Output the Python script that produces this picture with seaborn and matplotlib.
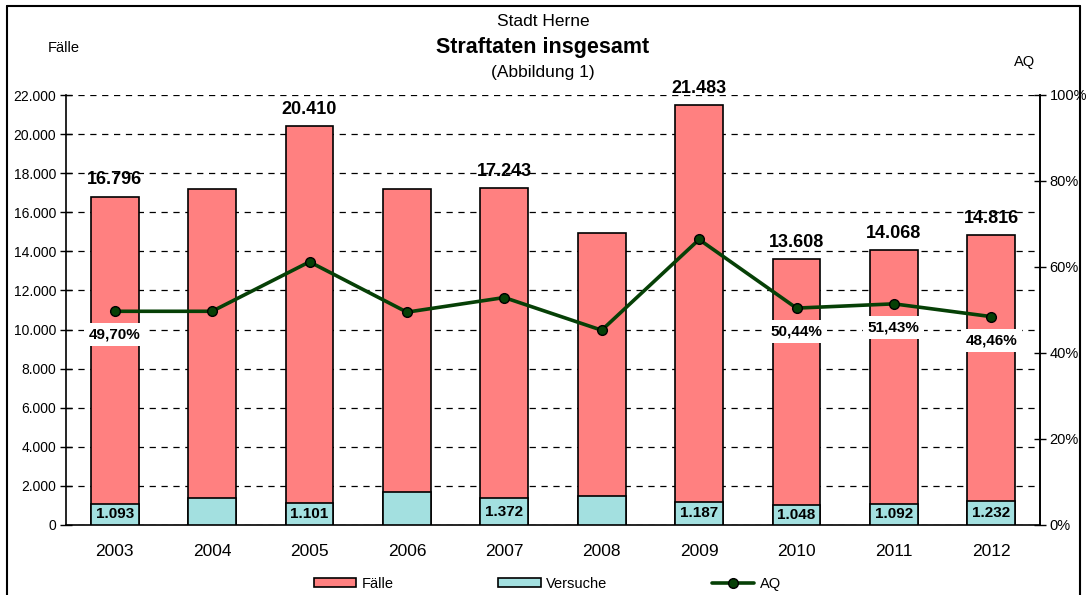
import matplotlib
matplotlib.use('Agg')
import matplotlib.pyplot as plt
import seaborn as sns
import numpy as np
import pandas as pd
from matplotlib.lines import Line2D
from matplotlib.patches import Patch
from matplotlib.ticker import FuncFormatter, FixedLocator

# ---------------- data ----------------
years = ['2003', '2004', '2005', '2006', '2007', '2008', '2009', '2010', '2011', '2012']
faelle = [16796, 17180, 20410, 17180, 17243, 14950, 21483, 13608, 14068, 14816]
versuche = [1093, 1370, 1101, 1680, 1372, 1500, 1187, 1048, 1092, 1232]
aq = [49.70, 49.70, 61.20, 49.50, 52.90, 45.30, 66.40, 50.44, 51.43, 48.46]
show_total = [True, False, True, False, True, False, True, True, True, True]
show_versuche = [True, False, True, False, True, False, True, True, True, True]
show_aq = [True, False, False, False, False, False, False, True, True, True]

df = pd.DataFrame({'Jahr': years, 'Fälle': faelle, 'Versuche': versuche, 'AQ': aq})

# ---------------- style ----------------
sns.set_style('white')
plt.rcParams['font.family'] = ['Liberation Sans', 'DejaVu Sans']
plt.rcParams['text.color'] = 'black'
plt.rcParams['axes.labelcolor'] = 'black'
plt.rcParams['xtick.color'] = 'black'
plt.rcParams['ytick.color'] = 'black'

C_FAELLE = '#FF8080'
C_VERS = '#A3E0E0'
C_AQ = '#064006'

fig = plt.figure(figsize=(10.86, 5.95), dpi=100)
ax = fig.add_axes([66 / 1086, 70 / 595, 974 / 1086, 430 / 595])

def de_num(v):
    return f"{int(round(v)):,}".replace(',', '.')

sns.barplot(data=df, x='Jahr', y='Fälle', color=C_FAELLE, saturation=1,
            edgecolor='black', linewidth=1.2, width=0.49, ax=ax, zorder=2)
sns.barplot(data=df, x='Jahr', y='Versuche', color=C_VERS, saturation=1,
            edgecolor='black', linewidth=1.2, width=0.49, ax=ax, zorder=3)

ax.set_xlim(-0.5, len(years) - 0.5)
ax.set_ylim(0, 22000)
ax.set_yticks(np.arange(0, 22001, 2000))
ax.yaxis.set_major_formatter(FuncFormatter(lambda v, p: de_num(v)))
ax.set_xlabel('')
ax.set_ylabel('')
ax.set_axisbelow(True)
ax.yaxis.grid(True, linestyle=(0, (5, 4.5)), color='black', linewidth=0.9)
ax.xaxis.grid(False)

for s in ['left', 'bottom', 'right']:
    ax.spines[s].set_visible(True)
    ax.spines[s].set_color('black')
    ax.spines[s].set_linewidth(1.2)
ax.spines['top'].set_visible(False)

ax.tick_params(axis='y', direction='inout', length=8, width=1, labelsize=10, pad=3, colors='black')
ax.tick_params(axis='x', which='major', length=0, labelsize=12.5, pad=14, colors='black')
ax.xaxis.set_minor_locator(FixedLocator(np.arange(-0.5, len(years), 1.0)))
ax.tick_params(axis='x', which='minor', direction='inout', length=8, width=1, colors='black')

# totals above bars
for i, (v, s) in enumerate(zip(faelle, show_total)):
    if s:
        ax.annotate(de_num(v), (i, v), xytext=(0, 6), textcoords='offset points',
                    ha='center', va='bottom', fontsize=13, fontweight='bold',
                    color='black', zorder=5)

# Versuche labels inside cyan bars
for i, (v, s) in enumerate(zip(versuche, show_versuche)):
    if s:
        ax.text(i, v / 2, de_num(v), ha='center', va='center', fontsize=11,
                fontweight='bold', color='black', zorder=5)

# AQ line on secondary axis
ax2 = ax.twinx()
ax2.set_ylim(0, 1)
aq_frac = [a / 100 for a in aq]
ax2.plot(np.arange(len(years)), aq_frac, color=C_AQ, linewidth=2.6, marker='o',
         markersize=7, markerfacecolor=C_AQ, markeredgecolor='black', markeredgewidth=1, zorder=6)
ax2.set_yticks(np.arange(0, 1.01, 0.2))
ax2.yaxis.set_major_formatter(FuncFormatter(lambda v, p: f"{int(round(v * 100))}%"))
ax2.tick_params(axis='y', direction='inout', length=8, width=1, labelsize=10.5, pad=3, colors='black')
ax2.grid(False)
for s in ['top', 'left', 'bottom']:
    ax2.spines[s].set_visible(False)
ax2.spines['right'].set_visible(True)
ax2.spines['right'].set_color('black')
ax2.spines['right'].set_linewidth(1.2)

for i, (v, s) in enumerate(zip(aq, show_aq)):
    if s:
        ax2.annotate(f"{v:.2f}".replace('.', ',') + '%', (i, v / 100), xytext=(0, -17),
                     textcoords='offset points', ha='center', va='center', fontsize=11,
                     fontweight='bold', color='black', zorder=7,
                     bbox=dict(boxstyle='square,pad=0.3', fc='white', ec='none'))

# titles and axis headers
fig.text(0.5, 1 - 22 / 595, 'Stadt Herne', ha='center', va='center', fontsize=12.5, color='black')
fig.text(0.5, 1 - 47 / 595, 'Straftaten insgesamt', ha='center', va='center', fontsize=15.5,
         fontweight='bold', color='black')
fig.text(0.5, 1 - 72 / 595, '(Abbildung 1)', ha='center', va='center', fontsize=12.5, color='black')
fig.text(64 / 1086, 1 - 48 / 595, 'Fälle', ha='center', va='center', fontsize=10.5, color='black')
fig.text(1025 / 1086, 1 - 62 / 595, 'AQ', ha='center', va='center', fontsize=10.5, color='black')

# legend
handles = [Patch(facecolor=C_FAELLE, edgecolor='black', linewidth=1.2, label='Fälle'),
           Patch(facecolor=C_VERS, edgecolor='black', linewidth=1.2, label='Versuche'),
           Line2D([0], [0], color=C_AQ, linewidth=2.6, marker='o', markersize=7,
                  markerfacecolor=C_AQ, markeredgecolor='black', label='AQ')]
fig.legend(handles=handles, loc='center', bbox_to_anchor=(0.504, 1 - 584 / 595), ncol=3,
           frameon=False, fontsize=10.5, handlelength=2.9, handleheight=0.6,
           handletextpad=0.35, columnspacing=7.2, labelcolor='black')

# outer frame
fx0, fx1 = 7 / 1086, 1080 / 1086
fy1 = 1 - 6 / 595
for xs, ys in [([fx0, fx0], [-0.01, fy1]), ([fx0, fx1], [fy1, fy1]), ([fx1, fx1], [fy1, -0.01])]:
    fig.add_artist(Line2D(xs, ys, transform=fig.transFigure, color='black', linewidth=1.5))

fig.savefig('out.png', dpi=100)
